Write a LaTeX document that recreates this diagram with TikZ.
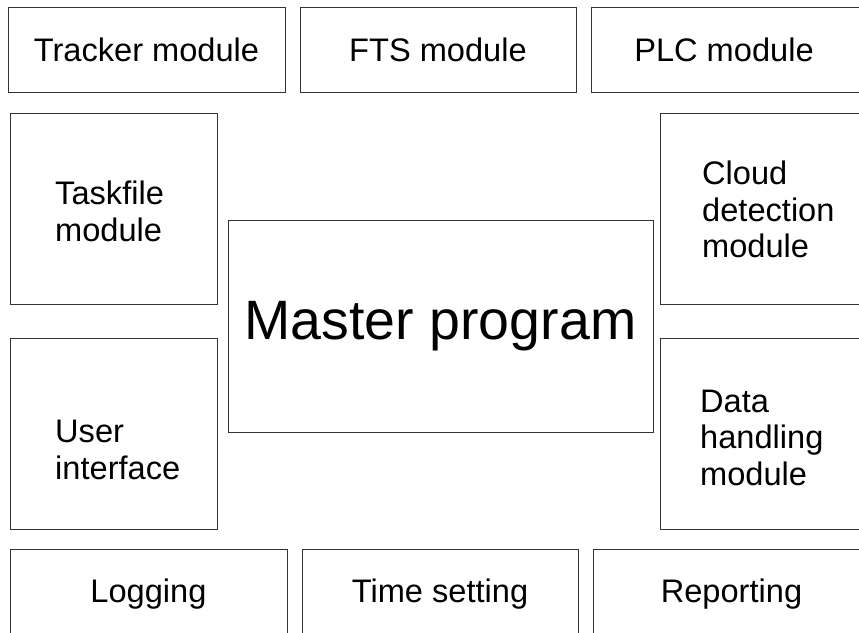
\documentclass[tikz,border=0pt]{standalone}
\usepackage{fontspec}
\setmainfont{Liberation Sans}
\begin{document}
\begin{tikzpicture}[x=1pt,y=-1pt,
  box/.style={draw=black!80,line width=1pt,inner sep=0,font=\fontsize{32.6}{37}\selectfont},
  ctr/.style={inner sep=0,font=\fontsize{32.6}{37}\selectfont},
  lbl/.style={inner sep=0,anchor=base west,font=\fontsize{32.6}{37}\selectfont}]
\useasboundingbox (0,0) rectangle (859,632);
\clip (0,0) rectangle (859,632);
\fill[white] (0,0) rectangle (859,632);
% top row
\node[box,minimum width=277pt,minimum height=85pt] (tracker) at (146.5,49.5) {Tracker module};
\node[box,minimum width=276pt,minimum height=85pt] (fts) at (438,49.5) {FTS module};
\node[box,minimum width=320pt,minimum height=85pt] (plc) at (751,49.5) {};
\node[ctr] (plct) at (724,49.5) {PLC module};
% left column
\node[box,minimum width=207pt,minimum height=191pt] (taskfile) at (113.5,208.5) {};
\node[lbl] (t1) at (55,204) {Taskfile};
\node[lbl] (t2) at (55,241) {module};
\node[box,minimum width=207pt,minimum height=191pt] (user) at (113.5,433.5) {};
\node[lbl] (u1) at (55,442) {User};
\node[lbl] (u2) at (55,479) {interface};
% right column
\node[box,minimum width=250pt,minimum height=191pt] (cloud) at (785,208.5) {};
\node[lbl] (c1) at (702,184) {Cloud};
\node[lbl] (c2) at (702,221) {detection};
\node[lbl] (c3) at (702,257) {module};
\node[box,minimum width=250pt,minimum height=191pt] (data) at (785,433.5) {};
\node[lbl] (d1) at (700,412) {Data};
\node[lbl] (d2) at (700,448) {handling};
\node[lbl] (d3) at (700,485) {module};
% centre
\node[box,minimum width=425pt,minimum height=212pt,font=\fontsize{55.5}{60}\selectfont] (master) at (440.5,326) {Master program};
% bottom row
\node[box,minimum width=277pt,minimum height=91pt] (logging) at (148.5,594.5) {Logging};
\node[box,minimum width=276pt,minimum height=91pt] (time) at (440,594.5) {Time setting};
\node[box,minimum width=320pt,minimum height=91pt] (report) at (753,594.5) {};
\node[ctr] (reportt) at (731.5,594.5) {Reporting};
\end{tikzpicture}
\end{document}
